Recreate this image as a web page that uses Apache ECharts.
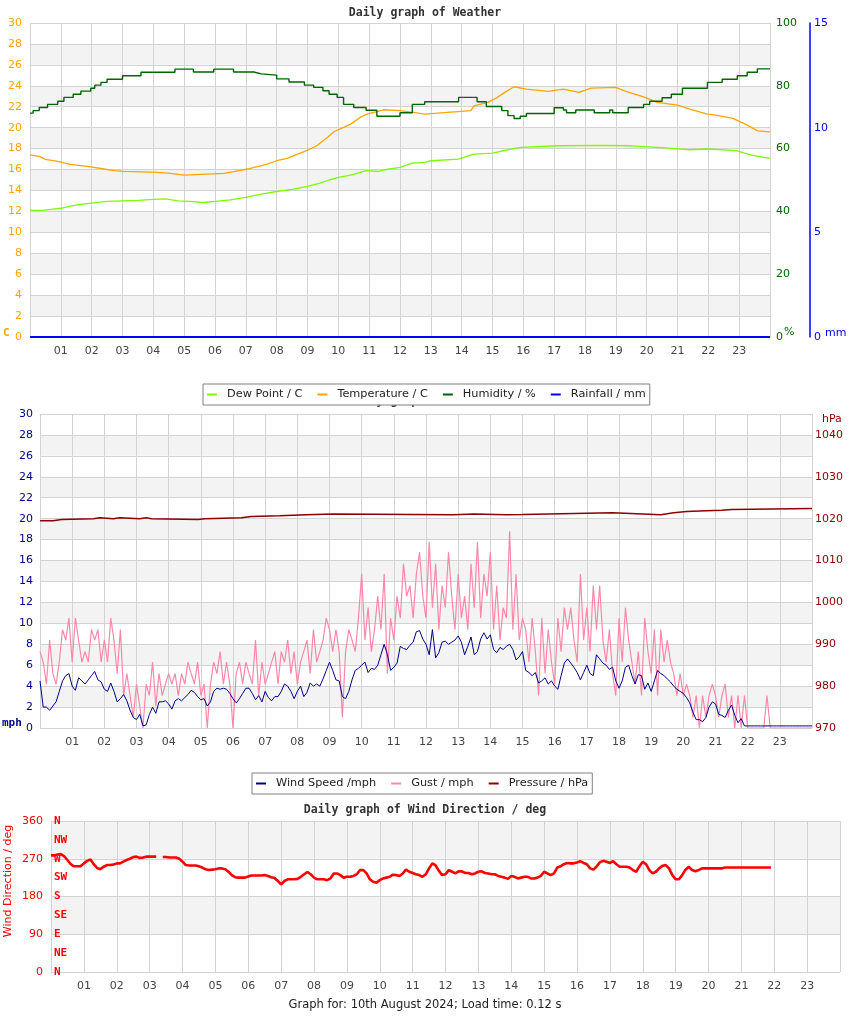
<!DOCTYPE html>
<html><head><meta charset="utf-8">
<script src="https://cdn.jsdelivr.net/npm/echarts@6/dist/echarts.min.js"></script>
<style>html,body{margin:0;padding:0;background:#fff}#c{width:850px;height:1017px}</style>
</head><body><div id="c"></div>
<script>
// ---------- DATA ----------
// Top chart (hours of day)
const dewT = [0,0.4,0.7,1.0,1.3,1.7,2.0,2.5,3.0,3.5,4.0,4.4,4.8,5.2,5.6,6.0,6.5,7.0,7.5,8.0,8.5,9.0,9.4,9.7,10.0,10.4,10.9,11.3,11.5,12.0,12.4,12.8,13.0,13.9,14.4,15.0,15.5,15.9,17.1,18.5,19.5,20.35,21.4,22.0,22.9,23.4,24];
const dewV = [12.1,12.1,12.2,12.3,12.5,12.7,12.8,12.95,13.0,13.05,13.15,13.2,13.0,12.95,12.85,12.95,13.1,13.35,13.65,13.9,14.1,14.4,14.7,15.0,15.25,15.47,15.9,15.83,15.98,16.2,16.62,16.68,16.84,17.0,17.48,17.57,17.89,18.12,18.27,18.3,18.27,18.12,17.89,17.96,17.8,17.38,17.07];
const tempT = [0,0.3,0.5,0.9,1.3,1.87,2.3,2.73,3.05,4.13,4.56,5.0,6.3,6.6,7.05,7.37,7.7,8.0,8.34,8.66,8.99,9.3,9.58,9.74,9.85,10.17,10.4,10.7,10.93,11.47,12.0,12.44,12.8,14.3,14.4,14.85,15.1,15.4,15.7,16.1,16.8,17.3,17.8,18.2,19.0,19.3,19.9,20.35,21.0,21.4,21.97,22.2,22.8,23.2,23.6,24];
const tempV = [17.41,17.26,16.97,16.78,16.5,16.3,16.1,15.9,15.83,15.73,15.63,15.47,15.63,15.79,16.05,16.27,16.52,16.84,17.07,17.45,17.83,18.27,18.91,19.29,19.61,20.03,20.34,20.98,21.3,21.71,21.62,21.46,21.3,21.62,22.09,22.41,22.8,23.37,23.91,23.69,23.47,23.69,23.37,23.78,23.85,23.5,22.95,22.41,22.16,21.78,21.3,21.23,20.89,20.34,19.7,19.6];
const humT = [0,0.1,0.3,0.57,0.9,1.1,1.4,1.65,1.97,2.1,2.3,2.5,3.0,3.6,4.7,5.3,5.96,6.6,7.26,7.5,8.0,8.4,8.9,9.2,9.5,9.7,9.96,10.17,10.5,10.9,11.25,12.0,12.4,12.8,13.9,14.5,14.8,15.3,15.5,15.7,15.9,16.1,17.0,17.3,17.4,17.7,18.3,18.8,18.9,19.4,19.9,20.1,20.5,20.8,21.16,21.97,22.45,22.94,23.26,23.59,24];
const humV = [71.3,72.1,73.1,74.1,75.1,76.3,77.3,78.3,79.2,80.2,81.1,82.1,83.2,84.3,85.3,84.4,85.3,84.4,83.8,83.4,82.2,81.2,80.2,79.5,78.4,77.3,76.3,74.1,73.1,72.2,70.3,71.4,74.1,74.9,76.3,74.9,73.4,72.1,70.5,69.6,70.3,71.2,73.0,72.3,71.4,72.3,71.4,72.3,71.4,73.1,74.1,75.1,76.2,77.3,79.2,81.1,82.1,83.2,84.3,85.4,85.4];
const rainT = [0,24];
const rainV = [0,0];

// Middle chart: samples every 0.1 h from 00:00 to 24:00
const sampleStep = 0.1;
const windSpeed = [
 4.5,2.0,2.0,1.7,2.1,2.5,3.5,4.5,5.0,5.2,
 4.0,3.6,4.8,4.5,4.2,4.6,5.0,5.4,4.6,4.4,
 3.7,3.5,4.3,3.5,2.5,2.8,3.2,2.6,1.7,1.0,
 0.8,1.3,0.2,0.3,1.3,2.0,1.4,2.5,2.5,2.6,
 2.3,1.8,2.6,2.8,2.6,2.9,3.2,3.6,3.4,3.0,
 2.7,2.8,2.1,2.5,3.5,3.8,3.7,3.8,3.7,3.3,
 2.8,2.4,2.8,3.3,3.8,3.8,3.3,2.7,3.1,2.5,
 3.5,2.9,2.6,3.0,3.0,3.5,4.2,4.0,3.5,2.8,
 3.5,4.0,3.0,3.4,4.3,4.0,4.2,4.0,4.7,5.5,
 6.3,5.5,4.6,4.5,3.0,2.8,3.5,4.6,5.5,5.7,
 6.0,6.3,5.3,5.7,5.6,6.0,7.0,8.0,7.0,5.5,
 5.8,6.2,7.8,7.6,7.5,7.9,8.2,9.2,9.3,8.5,
 8.0,7.0,9.4,6.7,7.2,8.2,8.3,8.0,8.2,8.4,
 8.8,8.2,7.0,7.8,8.7,7.0,7.3,8.5,9.1,8.5,
 8.9,7.5,7.2,7.7,7.5,7.8,8.0,7.5,6.5,6.8,
 7.3,5.5,5.3,5.0,5.3,4.3,4.5,4.8,4.2,4.5,
 4.0,3.7,5.0,6.2,6.6,6.2,5.8,5.3,4.6,5.3,
 6.0,5.2,5.0,7.0,6.6,6.2,6.0,5.6,5.8,4.5,
 3.8,4.5,5.8,6.0,5.0,4.2,5.1,5.0,3.7,4.3,
 3.5,4.5,5.5,5.2,5.0,4.7,4.4,4.0,3.7,3.5,
 3.3,2.9,2.4,1.5,0.8,0.8,0.6,1.0,2.0,2.5,
 2.3,1.3,1.2,1.0,1.7,2.2,1.2,0.5,0.9,0.2,
 0.2,0.2,0.2,0.2,0.2,0.2,0.2,0.2,0.2,0.2,
 0.2,0.2,0.2,0.2,0.2,0.2,0.2,0.2,0.2,0.2,
 0.2];
const gust = [
 7.3,6.3,4.2,8.4,5.2,4.2,6.3,9.4,8.4,10.5,
 6.3,10.5,8.4,6.3,7.3,6.3,9.4,8.4,9.4,6.3,
 8.4,6.3,10.5,8.4,5.2,9.4,3.1,5.2,3.1,1.0,
 4.2,2.1,0,4.2,3.1,6.3,2.1,5.2,3.1,4.2,
 5.2,4.2,5.2,3.1,5.2,4.2,6.3,5.2,4.2,6.3,
 3.1,4.2,0,4.2,6.3,5.2,7.3,4.2,6.3,4.2,
 0,5.2,6.3,4.2,6.3,5.2,4.2,8.4,3.1,6.3,
 4.2,5.2,6.3,7.3,4.2,7.3,6.3,8.4,5.2,7.3,
 4.2,6.3,7.3,8.4,5.2,9.4,6.3,7.3,8.4,10.5,
 9.4,7.3,9.4,7.3,1.0,7.3,9.4,8.4,7.3,10.5,
 14.7,8.4,11.5,7.3,9.4,12.6,9.4,14.7,5.2,10.5,
 8.4,12.6,10.5,15.7,12.6,13.6,10.5,14.7,16.8,12.6,
 10.5,17.8,11.5,15.7,9.4,13.6,11.5,16.8,12.6,9.4,
 14.7,10.5,12.6,9.4,15.7,11.5,17.8,10.5,14.7,12.6,
 16.8,9.4,13.6,8.4,11.5,10.5,18.8,9.4,14.7,8.4,
 10.5,9.4,6.3,10.5,7.3,3.1,10.5,5.2,9.4,6.3,
 4.2,10.5,7.3,11.5,9.4,11.5,8.4,6.3,14.7,8.4,
 11.5,7.3,13.6,9.4,13.6,8.4,6.3,9.4,5.2,3.1,
 10.5,6.3,11.5,8.4,6.3,4.2,7.3,3.1,10.5,7.3,
 5.2,9.4,3.1,9.4,6.3,8.4,6.3,5.2,3.1,5.2,
 3.1,4.2,3.1,1.0,3.1,0,3.1,1.0,3.1,4.2,
 3.1,1.0,3.1,4.2,1.0,3.1,0,3.1,0,3.1,
 0,0,0,0,0,0,3.1,0,0,0,
 0,0,0,0,0,0,0,0,0,0,
 0];
const presT = [0,0.41,0.67,1.66,1.86,2.28,2.48,3.1,3.3,3.47,4.92,5.12,6.26,6.57,7.45,8.28,9.1,12.85,13.5,14.5,15.0,17.8,19.3,19.7,20.1,20.7,21.2,21.5,24];
const presV = [1019.5,1019.8,1020.0,1020.2,1020.0,1020.2,1020.0,1020.2,1020.0,1019.8,1020.0,1020.2,1020.5,1020.7,1020.95,1021.1,1020.95,1021.1,1020.95,1021.0,1021.4,1020.95,1021.4,1021.7,1021.9,1022.0,1022.2,1022.4,1022.4];

// Bottom chart: wind direction every 0.1 h (null = no data)
const windDir = [
 278,278,280,281,276,267,257,252,252,252,
 259,265,268,257,248,245,251,255,255,256,
 259,259,263,267,270,274,275,272,273,275,
 275,275,275,null,274,274,273,273,273,270,
 263,255,254,254,254,252,249,245,243,244,
 245,247,247,245,239,231,226,225,225,225,
 228,230,230,230,230,231,229,226,224,217,
 209,217,221,221,221,222,227,233,238,233,
 225,221,221,221,219,223,235,235,231,225,
 227,227,229,233,243,243,235,221,215,213,
 219,223,225,227,232,231,229,235,244,239,
 236,233,231,227,233,247,259,254,241,231,
 233,243,239,235,240,240,236,236,233,235,
 239,240,236,235,233,233,229,227,225,222,
 229,227,223,225,227,227,223,223,225,229,
 239,235,231,235,249,252,257,260,259,259,
 261,264,260,257,247,244,252,262,265,263,
 260,264,257,251,251,251,249,243,239,252,
 263,257,243,235,239,247,253,255,247,231,
 221,221,231,244,251,243,240,243,247,247,
 247,247,247,247,247,249,249,249,249,249,
 249,249,249,249,249,249,249,249,249,249];
const compassLabels = ['N','NE','E','SE','S','SW','W','NW','N'];

const legendTop = ['Dew Point / C','Temperature / C','Humidity / %','Rainfall / mm'];
const legendMid = ['Wind Speed /mph','Gust / mph','Pressure / hPa'];

// ---------- BUILD ----------
const FONT = 'DejaVu Sans';
const MONO = 'DejaVu Sans Mono';
const GL = '#d3d3d3';
const BAND = ['#ffffff', '#f3f3f3'];
const zip = (t, v) => t.map((x, i) => [x, v[i]]);
const sampled = (arr) => arr.map((v, i) => [Math.round(i * sampleStep * 10) / 10, v == null ? '-' : v]);
const hourLabel = v => (v > 0 && v < 24) ? (v < 10 ? '0' : '') + v : '';

function xAx(gi) {
  return { type: 'value', gridIndex: gi, min: 0, max: 24, interval: 1,
    axisLine: { show: false }, axisTick: { show: false },
    axisLabel: { formatter: hourLabel, color: '#444', fontSize: 11, fontFamily: FONT, margin: 9 },
    splitLine: { show: true, lineStyle: { color: GL, width: 1 } } };
}
function yBase(gi, min, max, interval, color, extra) {
  return Object.assign({ type: 'value', gridIndex: gi, min, max, interval,
    axisLine: { show: false }, axisTick: { show: false },
    axisLabel: { color, fontSize: 11, fontFamily: FONT, margin: 8 },
    splitLine: { show: false }, splitArea: { show: false } }, extra || {});
}
function legendBox(data, left, top) {
  return { data, left, top, orient: 'horizontal', padding: [5, 4, 5, 4], itemGap: 15, itemWidth: 10, itemHeight: 2,
    icon: 'rect', backgroundColor: '#fff', borderColor: '#808080', borderWidth: 1, borderRadius: 0,
    selectedMode: false, z: 10, textStyle: { fontFamily: FONT, fontSize: 11.3, color: '#222', padding: [0, 0, 0, 5] } };
}

const chart = echarts.init(document.getElementById('c'), null, { renderer: 'canvas' });
const option = {
  animation: false,
  backgroundColor: '#fff',
  grid: [
    { left: 30, top: 23, width: 740, height: 314, containLabel: false, outerBoundsMode: 'none' },
    { left: 40, top: 414, width: 772, height: 314, containLabel: false, outerBoundsMode: 'none' },
    { left: 51, top: 821, width: 789, height: 151, containLabel: false, outerBoundsMode: 'none' }
  ],
  xAxis: [xAx(0), xAx(1), xAx(2)],
  yAxis: [
    yBase(0, 0, 30, 2, '#ffa500', { position: 'left', splitLine: { show: true, lineStyle: { color: GL } }, splitArea: { show: true, areaStyle: { color: BAND } } }),
    yBase(0, 0, 100, 20, '#006400', { position: 'right', axisLabel: { color: '#006400', fontSize: 11, fontFamily: FONT, margin: 6 } }),
    yBase(0, 0, 15, 5, '#0000ff', { position: 'right', offset: 40, axisLine: { show: true, lineStyle: { color: '#0000ff', width: 1.5 } }, axisLabel: { color: '#0000ff', fontSize: 11, fontFamily: FONT, margin: 4 } }),
    yBase(1, 0, 30, 2, '#00008b', { position: 'left', axisLabel: { color: '#00008b', fontSize: 11, fontFamily: FONT, margin: 7 }, splitLine: { show: true, lineStyle: { color: GL } }, splitArea: { show: true, areaStyle: { color: BAND } } }),
    yBase(1, 970, 1045, 10, '#8b0000', { position: 'right', axisLabel: { color: '#8b0000', fontSize: 11, fontFamily: FONT, margin: 3, formatter: v => v > 1040 ? '' : String(v) } }),
    yBase(2, 0, 360, 90, '#ff0000', { position: 'left', axisLabel: { color: '#ff0000', fontSize: 11, fontFamily: FONT, margin: 8 }, splitLine: { show: true, lineStyle: { color: GL } }, splitArea: { show: true, areaStyle: { color: BAND } } }),
    yBase(2, 0, 360, 45, '#ff0000', { position: 'left', axisLabel: { inside: true, margin: 3, color: '#ff0000', fontSize: 11, fontWeight: 'bold', fontFamily: MONO, formatter: v => compassLabels[Math.round(v / 45)] || '' } })
  ],
  legend: [legendBox(legendTop, 203, 384), legendBox(legendMid, 252, 773)],
  series: [
    { name: legendTop[0], type: 'line', xAxisIndex: 0, yAxisIndex: 0, data: zip(dewT, dewV), symbol: 'none', lineStyle: { color: '#7cfc00', width: 1.3 }, itemStyle: { color: '#7cfc00' } },
    { name: legendTop[1], type: 'line', xAxisIndex: 0, yAxisIndex: 0, data: zip(tempT, tempV), symbol: 'none', lineStyle: { color: '#ffa500', width: 1.3 }, itemStyle: { color: '#ffa500' } },
    { name: legendTop[2], type: 'line', xAxisIndex: 0, yAxisIndex: 1, step: 'end', data: zip(humT, humV), symbol: 'none', lineStyle: { color: '#006400', width: 1.4 }, itemStyle: { color: '#006400' } },
    { name: legendTop[3], type: 'line', xAxisIndex: 0, yAxisIndex: 2, data: zip(rainT, rainV), symbol: 'none', lineStyle: { color: '#0000ff', width: 2 }, itemStyle: { color: '#0000ff' } },
    { name: legendMid[1], type: 'line', xAxisIndex: 1, yAxisIndex: 3, data: sampled(gust), symbol: 'none', lineStyle: { color: '#ff88aa', width: 1.2 }, itemStyle: { color: '#ff88aa' } },
    { name: legendMid[0], type: 'line', xAxisIndex: 1, yAxisIndex: 3, data: sampled(windSpeed), symbol: 'none', lineStyle: { color: '#00008b', width: 1 }, itemStyle: { color: '#00008b' } },
    { name: legendMid[2], type: 'line', xAxisIndex: 1, yAxisIndex: 4, step: 'end', data: zip(presT, presV), symbol: 'none', lineStyle: { color: '#8b0000', width: 1.5 }, itemStyle: { color: '#8b0000' } },
    { name: 'Wind Direction', type: 'line', xAxisIndex: 2, yAxisIndex: 5, data: sampled(windDir), symbol: 'none', connectNulls: false, lineStyle: { color: '#ff0000', width: 2.6 }, itemStyle: { color: '#ff0000' } }
  ],
  graphic: [
    { type: 'text', x: 425, y: 13, z: 0, style: { text: 'Daily graph of Weather', align: 'center', verticalAlign: 'middle', font: 'bold 11.5px "DejaVu Sans Mono"', fill: '#333' } },
    { type: 'text', x: 425, y: 401, z: 0, style: { text: 'Daily graph of Weather', align: 'center', verticalAlign: 'middle', font: 'bold 11.5px "DejaVu Sans Mono"', fill: '#333' } },
    { type: 'text', x: 425, y: 810, z: 0, style: { text: 'Daily graph of Wind Direction / deg', align: 'center', verticalAlign: 'middle', font: 'bold 11.5px "DejaVu Sans Mono"', fill: '#333' } },
    { type: 'text', x: 3, y: 333, style: { text: 'C', align: 'left', verticalAlign: 'middle', font: 'bold 11px "DejaVu Sans Mono"', fill: '#ffa500' } },
    { type: 'text', x: 784, y: 332, style: { text: '%', align: 'left', verticalAlign: 'middle', font: '11px "DejaVu Sans"', fill: '#006400' } },
    { type: 'text', x: 825, y: 333, style: { text: 'mm', align: 'left', verticalAlign: 'middle', font: '11px "DejaVu Sans"', fill: '#0000ff' } },
    { type: 'text', x: 822, y: 419, style: { text: 'hPa', align: 'left', verticalAlign: 'middle', font: '11px "DejaVu Sans"', fill: '#8b0000' } },
    { type: 'text', x: 2, y: 723, style: { text: 'mph', align: 'left', verticalAlign: 'middle', font: 'bold 11px "DejaVu Sans Mono"', fill: '#00008b' } },
    { type: 'text', x: 8.5, y: 881, rotation: Math.PI / 2, style: { text: 'Wind Direction / deg', align: 'center', verticalAlign: 'middle', font: '11px "DejaVu Sans"', fill: '#ff0000' } },
    { type: 'text', x: 425, y: 1005, style: { text: 'Graph for: 10th August 2024; Load time: 0.12 s', align: 'center', verticalAlign: 'middle', font: '11.5px "DejaVu Sans"', fill: '#222' } }
  ]
};
chart.setOption(option);
</script>
</body></html>
